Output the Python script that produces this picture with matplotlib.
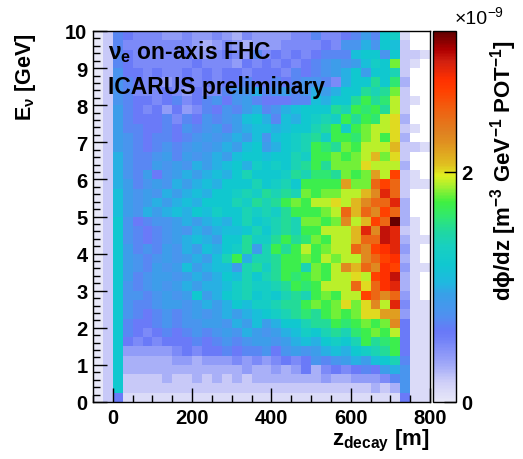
"""
ICARUS nu_e on-axis FHC flux vs decay position, redrawn in matplotlib.
"""

import numpy as np
import matplotlib
matplotlib.use("Agg")
import matplotlib.pyplot as plt
from matplotlib.colors import LinearSegmentedColormap

plt.rcParams["font.family"] = ["Liberation Sans", "DejaVu Sans"]
plt.rcParams["font.weight"] = "bold"
plt.rcParams["mathtext.fontset"] = "custom"
plt.rcParams["mathtext.rm"] = "Liberation Sans:bold"
plt.rcParams["mathtext.it"] = "Liberation Sans:bold"
plt.rcParams["mathtext.bf"] = "Liberation Sans:bold"

# Binning: z_decay in 25 m bins (-50..800), E_nu in 0.25 GeV bins (0..10)
z_edges = np.linspace(-50, 800, 35)
e_edges = np.linspace(0, 10, 41)

# dphi/dz in units of 1e-10 m^-3 GeV^-1 POT^-1
# first row = 9.75-10 GeV, last row = 0-0.25 GeV; None = empty bin
N = None
flux_rows = [
    [0, 2, 7, 6, 5, 5, 5, 4, 4, 5, 4, 4, 5, 4, 3, 5, 4, 4, 4, 4, 5, 5, 7, 5, 5, 6, 7, 9, 7, 12, 13, 1, N, N],
    [0, 2, 7, 5, 5, 5, 5, 5, 5, 5, 4, 3, 4, 5, 4, 3, 4, 4, 4, 5, 5, 5, 5, 6, 5, 8, 8, 10, 8, 12, 11, 2, N, N],
    [0, 2, 7, 6, 5, 5, 5, 5, 5, 6, 4, 4, 5, 6, 5, 4, 7, 5, 6, 5, 6, 5, 6, 7, 7, 7, 11, 12, 12, 8, 12, 2, 2, 1],
    [0, 2, 7, 6, 5, 5, 5, 5, 5, 5, 6, 5, 5, 5, 4, 6, 5, 6, 5, 6, 5, 6, 7, 8, 9, 8, 9, 11, 13, 12, 18, 2, 1, N],
    [0, 2, 8, 6, 6, 5, 6, 5, 5, 6, 5, 6, 5, 6, 6, 5, 6, 6, 6, 5, 7, 6, 7, 8, 9, 10, 12, 9, 12, 12, 14, 2, N, N],
    [0, 2, 8, 7, 6, 5, 5, 4, 5, 6, 5, 6, 5, 6, 6, 7, 6, 6, 7, 6, 7, 8, 8, 7, 5, 10, 12, 12, 15, 12, 16, 3, N, N],
    [0, 2, 8, 7, 5, 5, 5, 6, 5, 4, 6, 5, 5, 7, 8, 8, 10, 7, 8, 9, 7, 8, 10, 9, 10, 12, 12, 15, 14, 15, 18, 2, N, N],
    [0, 2, 8, 7, 6, 6, 5, 6, 7, 5, 6, 7, 8, 6, 8, 9, 7, 6, 6, 6, 7, 7, 11, 10, 12, 12, 15, 17, 15, 16, 19, 2, 1, N],
    [0, 2, 9, 7, 6, 5, 6, 4, 6, 4, 5, 7, 6, 8, 7, 9, 10, 7, 8, 10, 11, 12, 12, 12, 15, 14, 17, 16, 17, 15, 19, 2, N, N],
    [0, 2, 9, 7, 6, 6, 6, 7, 5, 7, 6, 8, 7, 8, 9, 11, 12, 10, 7, 11, 10, 12, 13, 14, 13, 17, 15, 17, 16, 19, 20, 3, N, N],
    [0, 2, 9, 7, 7, 6, 6, 7, 6, 8, 7, 8, 9, 7, 9, 10, 11, 11, 10, 11, 12, 12, 14, 15, 17, 13, 17, 18, 19, 19, 20, 2, 1, N],
    [0, 2, 9, 8, 7, 6, 7, 7, 6, 7, 8, 9, 8, 9, 10, 9, 11, 8, 11, 12, 13, 14, 15, 13, 17, 17, 16, 18, 19, 17, 20, 3, N, N],
    [0, 2, 9, 8, 7, 6, 7, 8, 7, 8, 9, 8, 9, 10, 9, 11, 12, 9, 10, 12, 13, 14, 17, 16, 15, 18, 17, 19, 19, 19, 21, 2, 2, 1],
    [0, 2, 10, 8, 7, 7, 8, 9, 7, 9, 8, 9, 10, 9, 11, 12, 12, 11, 12, 12, 14, 13, 17, 17, 18, 17, 18, 19, 21, 18, 20, 2, N, N],
    [0, 2, 10, 8, 7, 7, 9, 8, 9, 8, 10, 9, 10, 11, 12, 10, 13, 12, 13, 12, 14, 15, 17, 15, 18, 18, 18, 20, 19, 19, 19, 3, N, N],
    [0, 2, 10, 8, 7, 9, 6, 8, 9, 10, 9, 10, 11, 10, 12, 14, 12, 12, 12, 13, 15, 14, 16, 16, 15, 18, 17, 18, 22, 19, 27, 2, 1, N],
    [0, 2, 10, 9, 7, 8, 9, 8, 10, 9, 10, 11, 10, 12, 12, 12, 14, 12, 13, 14, 12, 17, 17, 17, 17, 22, 18, 18, 25, 27, 25, 2, 1, 1],
    [0, 2, 11, 9, 8, 9, 8, 10, 9, 10, 11, 10, 12, 12, 13, 14, 13, 15, 14, 15, 14, 18, 17, 18, 18, 19, 19, 21, 23, 29, 25, 2, N, N],
    [0, 2, 11, 9, 8, 9, 10, 9, 10, 11, 10, 12, 12, 12, 14, 13, 15, 14, 15, 17, 18, 17, 19, 19, 20, 19, 21, 23, 25, 25, 29, 3, N, N],
    [0, 2, 11, 9, 8, 10, 9, 10, 11, 10, 12, 11, 13, 12, 12, 14, 13, 14, 13, 15, 17, 17, 17, 18, 19, 25, 21, 25, 23, 27, 25, 3, N, N],
    [0, 2, 12, 8, 6, 7, 8, 8, 9, 10, 9, 10, 11, 10, 12, 14, 12, 13, 14, 15, 14, 18, 18, 17, 18, 23, 19, 21, 27, 25, 32, 3, 1, N],
    [0, 2, 12, 8, 7, 6, 7, 8, 9, 8, 10, 9, 10, 11, 11, 12, 14, 12, 14, 15, 14, 17, 17, 19, 19, 19, 21, 29, 23, 30, 29, 2, 1, N],
    [0, 2, 12, 8, 7, 6, 7, 8, 9, 10, 11, 10, 9, 12, 12, 15, 13, 13, 15, 17, 15, 16, 18, 17, 19, 19, 21, 25, 25, 30, 29, 3, 1, 1],
    [0, 2, 12, 9, 7, 8, 7, 9, 8, 10, 9, 11, 10, 12, 13, 15, 9, 14, 17, 15, 17, 19, 17, 18, 19, 19, 25, 23, 27, 28, 29, 4, 1, N],
    [0, 2, 12, 9, 8, 7, 8, 9, 8, 9, 10, 9, 11, 14, 17, 10, 14, 14, 15, 17, 17, 18, 17, 19, 18, 19, 19, 23, 25, 27, 28, 3, 1, N],
    [0, 2, 12, 9, 8, 7, 9, 8, 9, 11, 9, 10, 11, 11, 9, 14, 15, 13, 15, 17, 17, 14, 18, 17, 19, 23, 21, 25, 23, 28, 27, 4, 1, 1],
    [0, 2, 12, 9, 7, 8, 9, 9, 8, 9, 10, 9, 10, 12, 11, 14, 12, 14, 15, 17, 16, 17, 18, 17, 19, 19, 20, 19, 27, 28, 30, 3, 1, N],
    [0, 2, 12, 8, 7, 8, 9, 8, 9, 10, 9, 10, 10, 11, 13, 14, 13, 13, 14, 15, 17, 16, 17, 19, 19, 19, 25, 20, 25, 28, 29, 3, 1, N],
    [0, 2, 12, 8, 8, 7, 8, 9, 8, 9, 12, 9, 10, 12, 13, 14, 12, 13, 12, 14, 15, 14, 17, 18, 17, 19, 19, 27, 25, 23, 25, 4, 1, N],
    [0, 2, 12, 8, 7, 7, 8, 9, 9, 8, 9, 10, 9, 10, 12, 11, 13, 13, 14, 15, 15, 17, 18, 17, 18, 20, 18, 20, 23, 19, 29, 5, 1, 1],
    [0, 2, 12, 8, 7, 6, 7, 8, 7, 8, 9, 8, 9, 10, 9, 10, 11, 12, 13, 14, 15, 16, 15, 17, 18, 17, 18, 20, 20, 22, 22, 4, 1, 1],
    [0, 2, 12, 7, 6, 6, 7, 8, 7, 8, 8, 9, 9, 8, 10, 9, 11, 9, 10, 12, 12, 14, 15, 15, 17, 16, 17, 18, 17, 18, 23, 6, 1, 1],
    [0, 2, 12, 7, 6, 5, 6, 7, 6, 7, 8, 7, 8, 9, 8, 10, 9, 8, 9, 10, 11, 13, 12, 14, 15, 14, 16, 17, 18, 17, 19, 6, 1, 1],
    [0, 2, 12, 6, 5, 6, 5, 6, 6, 6, 7, 6, 7, 8, 7, 8, 9, 9, 8, 9, 10, 11, 10, 12, 13, 12, 14, 17, 15, 16, 17, 6, 1, 1],
    [0, 2, 12, 4, 4, 4, 4, 4, 5, 6, 5, 6, 6, 7, 6, 7, 7, 8, 6, 8, 9, 8, 9, 10, 11, 10, 12, 13, 14, 15, 17, 6, 1, 1],
    [0, 2, 12, 3, 3, 3, 3, 3, 4, 4, 3, 4, 4, 4, 5, 4, 5, 4, 5, 6, 5, 6, 8, 7, 8, 9, 10, 9, 11, 12, 14, 7, 1, 1],
    [0, 2, 12, 3, 3, 3, 3, 3, 3, 3, 3, 3, 3, 3, 3, 4, 3, 3, 4, 3, 4, 6, 3, 5, 6, 5, 6, 7, 6, 9, 10, 8, 1, 1],
    [0, 2, 12, 2, 2, 2, 2, 3, 2, 2, 3, 2, 3, 2, 3, 2, 3, 3, 3, 3, 3, 3, 3, 4, 3, 3, 4, 4, 4, 5, 7, 8, 1, 1],
    [0, 2, 12, 2, 2, 2, 2, 2, 2, 2, 2, 2, 2, 2, 2, 2, 2, 2, 2, 2, 2, 2, 2, 2, 2, 2, 2, 2, 3, 2, 3, 8, 1, 1],
    [0, 2, 6, 1, 1, 1, 1, 1, 1, 1, 1, 1, 1, 1, 1, 1, 1, 1, 1, 1, 1, 1, 1, 1, 1, 1, 1, 1, 1, 1, 1, 6, 1, 1],
]

# palette as seen on the colour bar (position, colour)
palette = [
    (0.00, "#e8e8f8"), (0.05, "#d0d0f8"), (0.10, "#a0a8f8"), (0.17, "#7080f8"),
    (0.19, "#6878f8"), (0.23, "#5090f0"), (0.29, "#38a0e8"), (0.32, "#20b8e0"),
    (0.37, "#10c8d0"), (0.42, "#18d0c0"), (0.46, "#20d8a0"), (0.50, "#30e870"),
    (0.54, "#40f040"), (0.58, "#a0f030"), (0.61, "#e0f020"), (0.64, "#e0c020"),
    (0.70, "#e09020"), (0.73, "#e08020"), (0.79, "#f06010"), (0.84, "#ff4000"),
    (0.87, "#ff3000"), (0.92, "#d02010"), (0.95, "#b00000"), (1.00, "#600000"),
]
cmap = LinearSegmentedColormap.from_list("icarus", palette)

flux = np.array(flux_rows[::-1], dtype=float) * 0.1  # -> units of 1e-9
flux = np.ma.masked_invalid(flux)

W, H = 523, 460
fig = plt.figure(figsize=(W / 100, H / 100), dpi=100)
ax = fig.add_axes([93 / W, 1 - 403 / H, 337 / W, 371 / H])
cax = fig.add_axes([433 / W, 1 - 403 / H, 23 / W, 371 / H])

mesh = ax.pcolormesh(z_edges, e_edges, flux, cmap=cmap, vmin=0, vmax=3.22)
ax.set_xlim(-50, 800)
ax.set_ylim(0, 10)

ax.set_xticks([0, 200, 400, 600, 800])
ax.set_xticks(np.arange(-50, 801, 50), minor=True)
ax.set_yticks(np.arange(0, 11, 1))
ax.set_yticks(np.arange(0, 10.01, 0.2), minor=True)
ax.tick_params(which="both", direction="in", top=False, right=False,
               width=1, labelsize=14.5)
ax.tick_params(which="major", length=10, pad=4)
ax.tick_params(which="minor", length=5)
for sp in ax.spines.values():
    sp.set_linewidth(1)

ax.text(0.045, 0.928, r"$\nu_{e}$ on-axis FHC", transform=ax.transAxes,
        fontsize=16.5, fontweight="bold", va="baseline")
ax.text(0.045, 0.834, "ICARUS preliminary", transform=ax.transAxes,
        fontsize=16.5, fontweight="bold", va="baseline")

# colour bar
cb = fig.colorbar(mesh, cax=cax)
cb.set_ticks([0, 2])
cb.set_ticklabels(["0", "2"])
cb.outline.set_linewidth(1)
cax.tick_params(direction="in", length=9, width=1, labelsize=14.5, pad=4)

# axis titles
fig.text(26 / W, 1 - 33 / H, r"E$_{\nu}$ [GeV]", rotation=90,
         ha="center", va="top", fontsize=15.5, fontweight="bold")
fig.text(430 / W, 1 - 441 / H, r"z$_{decay}$ [m]",
         ha="right", va="center", fontsize=16, fontweight="bold")
fig.text(504 / W, 1 - 40 / H, r"d$\phi$/dz [m$^{-3}$ GeV$^{-1}$ POT$^{-1}$]",
         rotation=90, ha="center", va="top", fontsize=16, fontweight="bold")
fig.text(455 / W, 1 - 20 / H, "\u00d710", ha="left", va="center",
         fontsize=14, fontweight="normal")
fig.text(487 / W, 1 - 13 / H, "\u22129", ha="left", va="center",
         fontsize=10, fontweight="normal")

fig.savefig("out.png", dpi=100)
